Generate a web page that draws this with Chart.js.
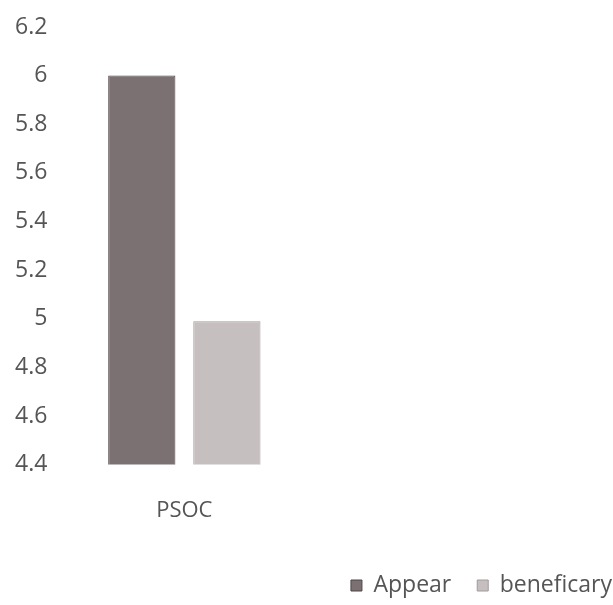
<!DOCTYPE html>
<html>
<head>
<meta charset="utf-8">
<script src="https://cdn.jsdelivr.net/npm/chart.js@4"></script>
<style>
    html, body { margin: 0; padding: 0; background: #fff; }
    #wrap { width: 613px; height: 605px; }
</style>
</head>
<body>
<div id="wrap"><canvas id="psocChart"></canvas></div>
<script>
// Chart data
const categories = ['PSOC'];
const appearValues = [6];
const beneficaryValues = [4.99];
const seriesNames = ['Appear', 'beneficary'];
const yMin = 4.4;
const yMax = 6.2;
const yStep = 0.2;

// the category band only covers the left part of the plot in the picture
const categoryWidth = 254;

document.addEventListener('DOMContentLoaded', function() {
    initChart();
});

/**
 * Shrinks the x axis so the single category sits on the left
 */
const narrowAxisPlugin = {
    id: 'narrowAxis',
    afterLayout: function(chart) {
        const x = chart.scales.x;
        x.right = x.left + categoryWidth;
        x.width = categoryWidth;
        x.configure();
    }
};

function initChart() {
    const ctx = document.getElementById('psocChart');
    const textColor = '#555555';
    const fontFamily = "'Open Sans', sans-serif";

    new Chart(ctx, {
        type: 'bar',
        data: {
            labels: categories,
            datasets: [{
                label: seriesNames[0],
                data: appearValues,
                backgroundColor: '#7b7072',
                borderColor: '#4f4546',
                borderWidth: 1,
                barPercentage: 0.79,
                categoryPercentage: 0.67
            }, {
                label: seriesNames[1],
                data: beneficaryValues,
                backgroundColor: '#c6bfbf',
                borderColor: '#a39a9a',
                borderWidth: 1,
                barPercentage: 0.79,
                categoryPercentage: 0.67
            }]
        },
        plugins: [narrowAxisPlugin],
        options: {
            responsive: true,
            maintainAspectRatio: false,
            animation: false,
            layout: {
                // the legend runs off the right edge of the scan
                padding: { left: 5, right: -25, top: 27, bottom: -2 }
            },
            plugins: {
                tooltip: { enabled: false },
                legend: {
                    position: 'bottom',
                    align: 'end',
                    labels: {
                        boxWidth: 11,
                        boxHeight: 11,
                        padding: 26,
                        color: textColor,
                        font: { family: fontFamily, size: 23 }
                    }
                }
            },
            scales: {
                x: {
                    grid: { display: false, drawTicks: false },
                    border: { display: false },
                    afterFit: function(scale) {
                        scale.height -= 9;
                    },
                    ticks: {
                        color: textColor,
                        padding: 33,
                        font: { family: fontFamily, size: 22 }
                    }
                },
                y: {
                    min: yMin,
                    max: yMax,
                    grid: { display: false, drawTicks: false },
                    border: { display: false },
                    ticks: {
                        stepSize: yStep,
                        color: textColor,
                        padding: 10,
                        font: { family: fontFamily, size: 23 },
                        callback: function(value) {
                            return Math.round(value * 10) / 10;
                        }
                    }
                }
            }
        }
    });
}
</script>
</body>
</html>
